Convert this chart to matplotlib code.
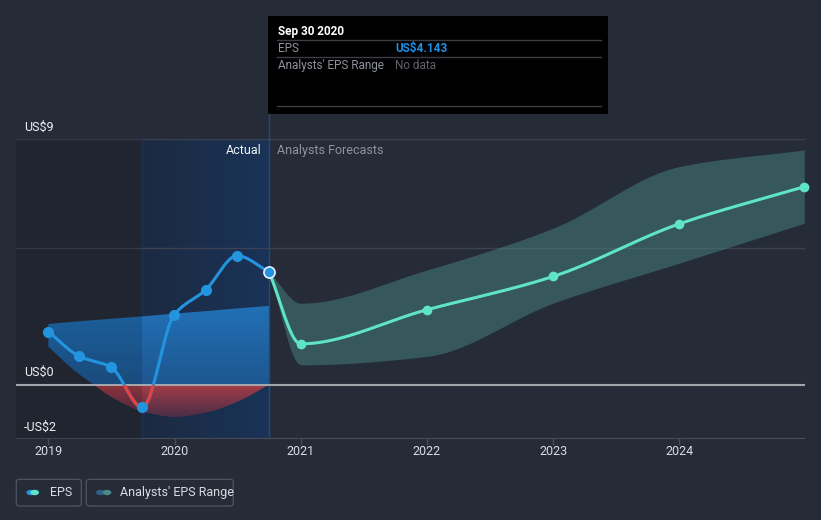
import numpy as np
import matplotlib
matplotlib.use("Agg")
from matplotlib import pyplot as plt
from matplotlib.colors import LinearSegmentedColormap
from matplotlib.patches import FancyBboxPatch, Rectangle, Circle
from matplotlib.lines import Line2D

plt.rcParams['font.family'] = ['Roboto', 'DejaVu Sans']

# ---- data ----
eps_t = [2019.0, 2019.247, 2019.496, 2019.745, 2019.997, 2020.247, 2020.496, 2020.748]
eps_v = [1.95, 1.04, 0.65, -0.83, 2.56, 3.48, 4.73, 4.143]

fc_t = [2020.748, 2021.0, 2022.0, 2023.0, 2024.0, 2024.99]
fc_v = [4.143, 1.50, 2.75, 3.97, 5.90, 7.26]
fc_hi = [4.143, 2.99, 4.21, 5.74, 8.00, 8.61]
fc_lo = [4.143, 0.73, 1.04, 2.99, 4.46, 5.92]

# past range band (straight top, curved bottom)
past_t = [2019.0, 2019.2, 2019.36, 2019.5, 2019.75, 2020.0, 2020.25, 2020.5, 2020.748]
past_hi = [2.23, 2.31, 2.37, 2.42, 2.51, 2.61, 2.70, 2.80, 2.89]
past_lo = [1.40, 0.55, 0.0, -0.45, -0.98, -1.18, -1.02, -0.62, 0.0]

years = [2019, 2020, 2021, 2022, 2023, 2024]
now_t = 2020.748
year_ago_t = 2019.745

BG = '#262b38'
BLUE = '#2394df'
MINT = '#5fe3c9'
RED = '#e5413f'


def pchip(x, y, n=300):
    # monotone cubic (Fritsch-Carlson) for drawing smooth curves
    x = np.asarray(x, float); y = np.asarray(y, float)
    h = np.diff(x); d = np.diff(y) / h
    m = np.zeros_like(y)
    m[0], m[-1] = d[0], d[-1]
    for i in range(1, len(x) - 1):
        if d[i - 1] * d[i] <= 0:
            m[i] = 0
        else:
            w1 = 2 * h[i] + h[i - 1]; w2 = h[i] + 2 * h[i - 1]
            m[i] = (w1 + w2) / (w1 / d[i - 1] + w2 / d[i])
    xs = np.linspace(x[0], x[-1], n)
    idx = np.clip(np.searchsorted(x, xs) - 1, 0, len(x) - 2)
    t = (xs - x[idx]) / h[idx]
    h00 = 2 * t**3 - 3 * t**2 + 1; h10 = t**3 - 2 * t**2 + t
    h01 = -2 * t**3 + 3 * t**2; h11 = t**3 - t**2
    ys = h00 * y[idx] + h10 * h[idx] * m[idx] + h01 * y[idx + 1] + h11 * h[idx] * m[idx + 1]
    return xs, ys


fig = plt.figure(figsize=(8.21, 5.2), dpi=100, facecolor=BG)
W, H = 821, 520
ax = fig.add_axes([16 / W, 1 - 439.3 / H, (805 - 16) / W, (439.3 - 139.3) / H])
ax.set_facecolor(BG)
for s in ax.spines.values():
    s.set_visible(False)
ax.set_yticks([])
ax.set_xticks([])

# shaded periods
ax.axvspan(2018.744, year_ago_t, color='#000000', alpha=0.13, lw=0, zorder=4)
grad_h = np.linspace(0, 1, 100).reshape(1, -1)
cm_h = LinearSegmentedColormap.from_list('h', ['#1c2a42', '#1a3357'])
ax.imshow(grad_h, extent=[year_ago_t, now_t, -2, 9], aspect='auto', cmap=cm_h, zorder=0.5)
ax.axvline(now_t, color='#254a7a', lw=1, zorder=1)
ax.axvline(year_ago_t, color='#1f3250', lw=0.8, zorder=1)

# grid
for g in [9, 5]:
    ax.axhline(g, color='#3c4251', lw=1, zorder=1)
ax.axhline(-2, color='#474d5b', lw=1.5, zorder=1)
ax.axhline(0, color='#a3a6ad', lw=1.5, zorder=6)
for y in years:
    ax.plot([y, y], [-2, -2.17], color='#474d5b', lw=1, clip_on=False, zorder=1)
    ax.text(y, -2.45, str(y), ha='center', va='center', color='#d9dce1', fontsize=9)

# past range area with gradients
pt, phi = pchip(past_t, past_hi)
_, plo = pchip(past_t, past_lo)
blue_poly = ax.fill_between(pt, np.maximum(plo, 0), phi, color='none', lw=0)
red_poly = ax.fill_between(pt, np.minimum(plo, 0), 0, color='none', lw=0)
grad_v = np.linspace(0, 1, 100).reshape(-1, 1)
cm_b = LinearSegmentedColormap.from_list('b', ['#2270b6', '#1e5790'])
im_b = ax.imshow(grad_v, extent=[2019, now_t, 0, 2.9], aspect='auto', cmap=cm_b, zorder=2)
im_b.set_clip_path(blue_poly.get_paths()[0], transform=ax.transData)
cm_r = LinearSegmentedColormap.from_list('r', ['#a53c48', '#4b2f47'])
im_r = ax.imshow(grad_v, extent=[2019, now_t, -1.2, 0], aspect='auto', cmap=cm_r, zorder=2)
im_r.set_clip_path(red_poly.get_paths()[0], transform=ax.transData)
ax.set_xlim(2018.744, 2024.996)
ax.set_ylim(-2, 9)

# forecast band
ft, fhi = pchip(fc_t, fc_hi)
_, flo = pchip(fc_t, fc_lo)
ax.fill_between(ft, flo, fhi, color='#4b8d8a', alpha=0.45, lw=0, zorder=3)

# forecast line
fx, fy = pchip(fc_t, fc_v)
ax.plot(fx, fy, color=MINT, lw=2.2, zorder=7, solid_capstyle='round')
ax.plot(fc_t[1:], fc_v[1:], 'o', color=MINT, ms=6, zorder=8, clip_on=False)

# actual EPS line: blue, red below zero
ex, ey = pchip(eps_t, eps_v)
ax.plot(ex, ey, color=BLUE, lw=2.2, zorder=7, solid_capstyle='round')
red_line, = ax.plot(ex, ey, color=RED, lw=2.2, zorder=7.5)
clip = Rectangle((2018, -3), 8, 3, transform=ax.transData)
red_line.set_clip_path(clip)
ax.plot(eps_t[:-1], eps_v[:-1], 'o', color=BLUE, ms=7, zorder=9)
ax.plot(eps_t[-1], eps_v[-1], 'o', color=BLUE, mec='#e8f0ff', mew=1.2, ms=8, zorder=9)

# labels in plot
ax.text(2020.69, 8.58, 'Actual', ha='right', va='center', color='#eef0f3', fontsize=9)
ax.text(2020.815, 8.58, 'Analysts Forecasts', ha='left', va='center', color='#8e939b', fontsize=9)


def fx_(px):
    return px / W


def fy_(py):
    return 1 - py / H


# y labels
fig.text(fx_(24), fy_(127), 'US$9', color='#eef0f3', fontsize=9, va='center')
fig.text(fx_(24), fy_(372), 'US$0', color='#eef0f3', fontsize=9, va='center')
fig.text(fx_(24), fy_(427), '-US$2', color='#eef0f3', fontsize=9, va='center')

# now line up to tooltip
fig.add_artist(Line2D([fx_(269), fx_(269)], [fy_(114), fy_(139)], color='#254a7a', lw=1))

# tooltip
fig.add_artist(Rectangle((fx_(268.3), fy_(114.3)), (608.3 - 268.3) / W, (114.3 - 16) / H,
                         transform=fig.transFigure, facecolor='#000000', edgecolor='none'))
for ly in [40.3, 57.3, 106.3]:
    fig.add_artist(Line2D([fx_(277), fx_(600.7)], [fy_(ly), fy_(ly)], color='#3a3d44', lw=1))
fig.text(fx_(277.5), fy_(31), 'Sep 30 2020', color='#ffffff', fontsize=8.5, fontweight='bold', va='center')
fig.text(fx_(277.5), fy_(48.3), 'EPS', color='#8e939b', fontsize=8.5, va='center')
fig.text(fx_(395), fy_(48.3), 'US$4.143', color='#1e90e6', fontsize=8.5, fontweight='bold', va='center')
fig.text(fx_(277.5), fy_(65.5), "Analysts' EPS Range", color='#8e939b', fontsize=8.5, va='center')
fig.text(fx_(395), fy_(65.5), 'No data', color='#5f636b', fontsize=8.5, va='center')

# legend
for x0, x1 in [(16.3, 81.3), (86.3, 233.3)]:
    fig.add_artist(FancyBboxPatch((fx_(x0), fy_(506)), (x1 - x0) / W, (506 - 479.3) / H,
                                  boxstyle='round,pad=0,rounding_size=0.004',
                                  transform=fig.transFigure, facecolor='none',
                                  edgecolor='#4a505e', lw=1))
for cx, col in [(30.7, BLUE), (34.7, MINT), (100.3, '#2d5f88'), (107, '#4a8a88')]:
    fig.add_artist(Circle((fx_(cx), fy_(492.5)), 4.3 / W, transform=fig.transFigure,
                          facecolor=col, edgecolor='none'))
fig.text(fx_(50), fy_(492.5), 'EPS', color='#d9dce1', fontsize=9, va='center')
fig.text(fx_(120), fy_(492.5), "Analysts' EPS Range", color='#d9dce1', fontsize=9, va='center')

fig.savefig('out.png', dpi=100, facecolor=BG)
